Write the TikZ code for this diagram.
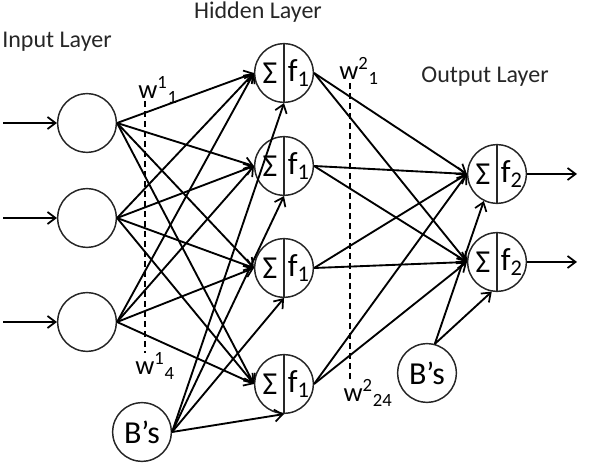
\documentclass[tikz,border=0pt]{standalone}
\usepackage{fontspec}
\setmainfont{Carlito}
\usetikzlibrary{arrows.meta}

\begin{document}
\begin{tikzpicture}[x=0.75pt, y=-0.75pt,
        neuron/.style={draw=black!85, line width=1.1pt, circle,
            minimum size=44pt, inner sep=0pt, font=\fontsize{24}{26}\selectfont},
        unit/.style={draw=black!85, line width=1.1pt, circle,
            minimum size=44pt, inner sep=0pt},
        sym/.style={inner sep=0pt, font=\fontsize{24}{26}\selectfont},
        wire/.style={line width=1.4pt,
            -{Straight Barb[length=6pt, width=9pt, line width=1.3pt]}},
        title/.style={font=\fontsize{18}{20}\selectfont, text=black!85},
        wlabel/.style={inner sep=0pt, font=\fontsize{20}{22}\selectfont},
        wline/.style={line width=1.1pt, dash pattern=on 4.5pt off 3pt}
    ]
    \useasboundingbox (0,0) rectangle (590,466);

    % Titles
    \node[title] (tin) at (57,42) {Input Layer};
    \node[title] (thid) at (258,12) {Hidden Layer};
    \node[title] (tout) at (485,77) {Output Layer};

    % Input layer
    \node[neuron] (in1) at (87,123) {};
    \node[neuron] (in2) at (87,218) {};
    \node[neuron] (in3) at (87,322) {};
    \coordinate (src1) at (3,123);
    \coordinate (src2) at (3,218);
    \coordinate (src3) at (3,322);

    % Hidden layer
    \foreach \n/\y in {1/73, 2/166, 3/268, 4/384} {
        \node[unit] (hid\n) at (284,\y) {};
        \draw[draw=black!85, line width=1.1pt] (hid\n.north) -- (hid\n.south);
        \node[sym] (hid\n s) at ([xshift=-10.5pt]hid\n.center) {Σ};
        \node[sym] (hid\n f) at ([xshift=11pt]hid\n.center) {f\textsubscript{1}};
    }

    % Output layer
    \foreach \n/\y in {1/174, 2/262} {
        \node[unit] (out\n) at (497,\y) {};
        \draw[draw=black!85, line width=1.1pt] (out\n.north) -- (out\n.south);
        \node[sym] (out\n s) at ([xshift=-10.5pt]out\n.center) {Σ};
        \node[sym] (out\n f) at ([xshift=11pt]out\n.center) {f\textsubscript{2}};
        \coordinate (dst\n) at (577,\y);
    }

    % Biases
    \node[neuron] (bias1) at (142,432) {B’s};
    \node[neuron] (bias2) at (427,373) {B’s};

    % Weight labels
    \node[wlabel] (w11) at (158,90) {w\textsuperscript{1}\textsubscript{1}};
    \node[wlabel] (w14) at (155,366) {w\textsuperscript{1}\textsubscript{4}};
    \node[wlabel] (w21) at (359,71) {w\textsuperscript{2}\textsubscript{1}};
    \node[wlabel] (w224) at (368,393) {w\textsuperscript{2}\textsubscript{24}};
    \coordinate (wa1) at (145,101);
    \coordinate (wa2) at (145,353);
    \coordinate (wb1) at (350,83);
    \coordinate (wb2) at (350,380);
    \draw[wline] (wa1) -- (wa2);
    \draw[wline] (wb1) -- (wb2);

    % Connections
    \foreach \i in {1,2,3} {
        \draw[wire] (src\i) -- (in\i.west);
        \foreach \h in {1,...,4}
            \draw[wire] (in\i.east) -- (hid\h.west);
    }
    \foreach \h in {1,...,4} {
        \draw[wire] (bias1.east) -- (hid\h.south);
        \foreach \o in {1,2}
            \draw[wire] (hid\h.east) -- (out\o.west);
    }
    \draw[wire] (bias2.75) -- (out1.-116);
    \draw[wire] (bias2.75) -- (out2.-100);
    \draw[wire] (out1.east) -- (dst1);
    \draw[wire] (out2.east) -- (dst2);

\end{tikzpicture}
\end{document}
